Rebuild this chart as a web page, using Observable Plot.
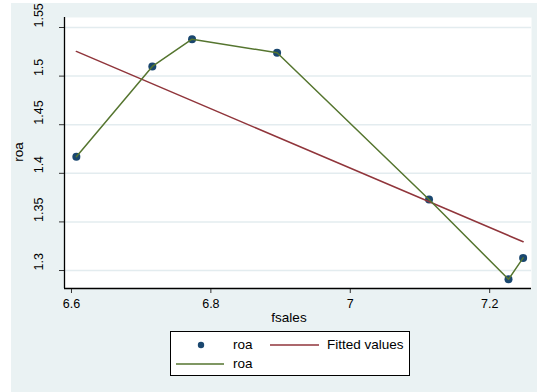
<!DOCTYPE html>
<html>
<head>
<meta charset="utf-8">
<script src="https://cdn.jsdelivr.net/npm/d3@7"></script>
<script src="https://cdn.jsdelivr.net/npm/@observablehq/plot@0.6"></script>
<style>
  html, body { margin: 0; padding: 0; background: #fff; }
  #wrap { position: relative; width: 537px; height: 392px; overflow: hidden; font-family: Arial, "Liberation Sans", sans-serif; color: #000; }
  #bg { position: absolute; left: 11px; top: 3px; right: 0; bottom: 0; background: #EAF2F3; }
  #chart { position: absolute; left: 0; top: 0; }
  #xlab { position: absolute; left: 289px; top: 310px; transform: translateX(-50%); font-size: 13.5px; }
  #ylab { position: absolute; left: 18px; top: 152px; transform: translate(-50%, -50%) rotate(-90deg); font-size: 13.5px; }
  #legend { position: absolute; left: 170px; top: 331px; width: 240px; height: 45px; box-sizing: border-box; border: 1px solid #000; background: #fff; }
  #legend svg { position: absolute; left: 0; top: 0; }
  .lt { position: absolute; font-size: 13.5px; line-height: 1; }
</style>
</head>
<body>
<div id="wrap">
  <div id="bg"></div>
  <div id="chart"></div>
  <div id="xlab">fsales</div>
  <div id="ylab">roa</div>
  <div id="legend"></div>
</div>
<script>
// Data
const fsales = [6.607, 6.716, 6.773, 6.895, 7.113, 7.227, 7.248];
const roa    = [1.417, 1.510, 1.538, 1.524, 1.373, 1.291, 1.313];
const xTicks = [6.6, 6.8, 7, 7.2];
const yTicks = [1.3, 1.35, 1.4, 1.45, 1.5, 1.55];
const legendLabels = ["roa", "Fitted values", "roa"];

const xDomain = [6.59, 7.26];
const yDomain = [1.2815, 1.5603];

const navy = "#1A476F", maroon = "#90353B", green = "#55752F";

const data = fsales.map((x, i) => ({fsales: x, roa: roa[i]}));

const chart = Plot.plot({
  width: 537,
  height: 330,
  marginLeft: 64,
  marginRight: 6,
  marginTop: 17,
  marginBottom: 42,
  style: {background: "transparent", fontFamily: "Arial, 'Liberation Sans', sans-serif", fontSize: "12.5px", color: "#000"},
  x: {domain: xDomain},
  y: {domain: yDomain},
  marks: [
    Plot.frame({fill: "white", stroke: null}),
    Plot.gridY(yTicks, {stroke: "#E3ECEF", strokeOpacity: 1, strokeWidth: 1.5}),
    Plot.axisY(yTicks, {tickSize: 5, tickFormat: () => "", label: null, stroke: "#333"}),
    Plot.text(yTicks, {y: d => d, text: d => String(d), frameAnchor: "left", dx: -26, rotate: -90, fontSize: 12.5, fill: "#000"}),
    Plot.axisX(xTicks, {tickSize: 5, tickPadding: 6, tickFormat: d => String(d), label: null, stroke: "#333", fill: "#000"}),
    Plot.ruleX([xDomain[0]], {stroke: "#000", strokeWidth: 1.3}),
    Plot.ruleY([yDomain[0]], {stroke: "#000", strokeWidth: 1.3}),
    Plot.dot(data, {x: "fsales", y: "roa", r: 4, fill: navy, stroke: null}),
    Plot.linearRegressionY(data, {x: "fsales", y: "roa", stroke: maroon, strokeWidth: 1.5, ci: 0}),
    Plot.line(data, {x: "fsales", y: "roa", stroke: green, strokeWidth: 1.5})
  ]
});
document.getElementById("chart").append(chart);

// Legend
const lg = document.getElementById("legend");
const ns = "http://www.w3.org/2000/svg";
const svg = document.createElementNS(ns, "svg");
svg.setAttribute("width", 238); svg.setAttribute("height", 43);
svg.innerHTML =
  `<circle cx="30" cy="13" r="3.2" fill="${navy}"/>` +
  `<line x1="99" x2="148" y1="13" y2="13" stroke="${maroon}" stroke-width="1.5"/>` +
  `<line x1="5" x2="53" y1="32" y2="32" stroke="${green}" stroke-width="1.5"/>`;
lg.append(svg);
const pos = [[62, 13], [156, 13], [62, 32]];
legendLabels.forEach((t, i) => {
  const d = document.createElement("div");
  d.className = "lt";
  d.textContent = t;
  d.style.left = pos[i][0] + "px";
  d.style.top = (pos[i][1] - 7) + "px";
  lg.append(d);
});
</script>
</body>
</html>
